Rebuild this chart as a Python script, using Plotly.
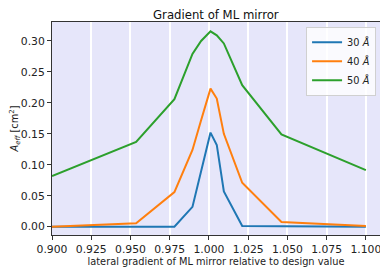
import plotly.graph_objects as go

x_vals = [0.9, 0.9536, 0.978, 0.9895, 0.995, 1.001, 1.005, 1.0095, 1.0212, 1.0462, 1.1]
a30 = [0.0, 0.0, 0.0, 0.032, 0.089, 0.152, 0.132, 0.057, 0.001, 0.0005, 0.0]
a40 = [0.0, 0.0055, 0.056, 0.124, 0.172, 0.223, 0.207, 0.150, 0.071, 0.0075, 0.001]
a50 = [0.0818, 0.137, 0.206, 0.279, 0.300, 0.3155, 0.309, 0.296, 0.2285, 0.149, 0.0915]
names = ["30 <i>Å</i>", "40 <i>Å</i>", "50 <i>Å</i>"]
colors = ["#1f77b4", "#ff7f0e", "#2ca02c"]

fig = go.Figure()
for ys, nm, c in zip([a30, a40, a50], names, colors):
    fig.add_trace(go.Scatter(x=x_vals, y=ys, mode="lines", name=nm,
                             line=dict(color=c, width=2)))

# the page body has an 8px default margin; figure is sized to compensate
font = "DejaVu Sans"
fig.update_layout(
    width=380, height=265,
    margin=dict(l=44, r=8, t=14, b=38, autoexpand=False),
    paper_bgcolor="white", plot_bgcolor="#E6E6FA",
    font=dict(family=font, size=10.8, color="#222"),
    title=dict(text="Gradient of ML mirror", x=0.547, xanchor="center",
               y=0.9755, yanchor="middle",
               font=dict(size=11.7, color="#111")),
    showlegend=True,
    legend=dict(x=0.988, xanchor="right", y=0.978, yanchor="top",
                bgcolor="rgba(255,255,255,0.8)", bordercolor="#d0d0d0",
                borderwidth=1, font=dict(size=9.8), tracegroupgap=0,
                itemwidth=30),
)
fig.update_xaxes(range=[0.9, 1.109], tick0=0.9, dtick=0.025, tickformat=".3f",
                 automargin=False,
                 showgrid=True, gridcolor="white", gridwidth=1.5,
                 zeroline=False, showline=True, linecolor="#333", linewidth=1,
                 mirror=True, ticks="outside", ticklen=4, tickcolor="#333",
                 title=dict(text="lateral gradient of ML mirror relative to design value",
                            standoff=3, font=dict(size=9.8)))
fig.update_yaxes(range=[-0.0134, 0.3306], tick0=0, dtick=0.05, tickformat=".2f",
                 automargin=False,
                 showgrid=False, zeroline=False, showline=True, linecolor="#333",
                 linewidth=1, mirror=True, ticks="outside", ticklen=4, tickcolor="#333",
                 title=dict(text="<i>A</i><sub><i>eff</i></sub> [cm<sup>2</sup>]",
                            standoff=4, font=dict(size=9.8)))

fig.write_html("out.html")
